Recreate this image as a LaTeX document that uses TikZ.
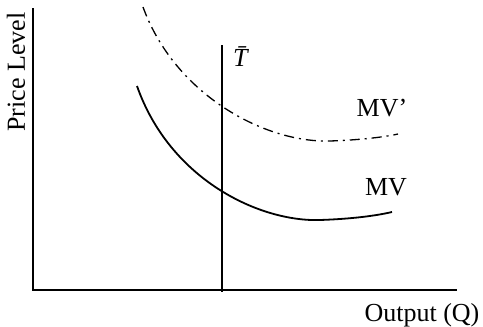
\documentclass[tikz,border=0pt]{standalone}
\usepackage{fontspec}
\setmainfont{Liberation Serif}
\tikzset{
    axisline/.style={line width=2pt},
    curveline/.style={line width=1.8pt},
    lbl/.style={font=\fontsize{26}{30}\selectfont, inner sep=0pt}
}
\begin{document}
\begin{tikzpicture}[x=1pt,y=-1pt]
    \useasboundingbox (0,0) rectangle (483,327);

    % Draw axes
    \coordinate (origin) at (33,290);
    \coordinate (ytop) at (33,8);
    \coordinate (xend) at (457,290);
    \draw[axisline] (ytop) -- (origin) -- (xend);

    % Vertical line T
    \coordinate (ttop) at (222,45);
    \coordinate (tbot) at (222,292);
    \draw[line width=1.5pt] (ttop) -- (tbot);
    \node[lbl, anchor=north west] (tlabel) at (233,46) {\itshape T^^^^0304};

    % MV curve
    \coordinate (mvstart) at (137,86);
    \coordinate (mvlow) at (320,220);
    \coordinate (mvend) at (392,212);
    \draw[curveline] (mvstart) .. controls (170,180) and (260,222) .. (mvlow)
        .. controls (350,219) and (375,216) .. (mvend);

    % MV' curve
    \coordinate (mvpstart) at (143,7);
    \coordinate (mvplow) at (330,141);
    \coordinate (mvpend) at (398,134);
    \draw[line width=1.3pt, dash pattern=on 10pt off 5pt on 2pt off 5pt]
        (mvpstart) .. controls (175,95) and (265,143) .. (mvplow)
        .. controls (360,140) and (385,137) .. (mvpend);

    % Labels
    \node[lbl] (mvlabel) at (386,187) {MV};
    \node[lbl] (mvplabel) at (382,108) {MV’};
    \node[lbl, rotate=90] (ylabel) at (16,72) {Price Level};
    \node[lbl] (xlabel) at (422,315) {Output (Q)};

\end{tikzpicture}
\end{document}
